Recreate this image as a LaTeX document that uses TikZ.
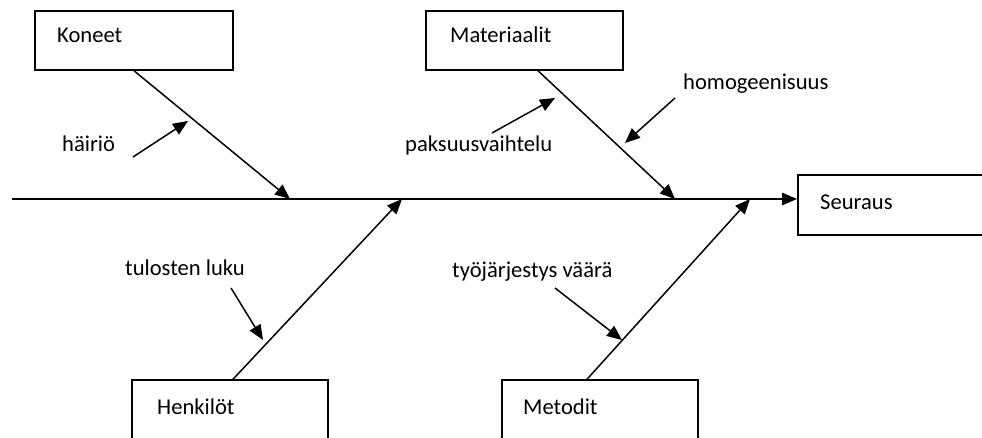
\documentclass[tikz,border=0pt]{standalone}
\usepackage{fontspec}
\setmainfont{Carlito}
\usetikzlibrary{arrows.meta}
\begin{document}
\begin{tikzpicture}[x=1pt,y=-1pt,
  box/.style={draw,line width=1.5pt,minimum width=#1,minimum height=59pt,inner sep=0pt},
  box/.default=198pt,
  lbl/.style={anchor=base west,inner sep=0pt,font=\fontsize{22.6}{26}\selectfont},
  arr/.style={line width=1.5pt,-{Triangle[length=15pt,width=12.5pt]}}]
\useasboundingbox (0,0) rectangle (982,438);
\clip (0,0) rectangle (982,438);

% category boxes
\node[box] (koneet) at (134,40.5) {};
\node[box=197pt] (mat) at (524.5,40.5) {};
\node[box=420pt,minimum height=60pt,anchor=west] (seur) at (797,205) {};
\node[box=196pt,minimum height=62pt] (henk) at (230,411) {};
\node[box=196pt,minimum height=62pt] (met) at (600,411) {};

% box titles
\node[lbl] (tkoneet) at (57,43) {Koneet};
\node[lbl] (tmat) at (450,43) {Materiaalit};
\node[lbl] (tseur) at (820,210) {Seuraus};
\node[lbl] (thenk) at (157,414) {Henkilöt};
\node[lbl] (tmet) at (523,414) {Metodit};

% cause labels
\node[lbl] (lhairio) at (62,152) {häiriö};
\node[lbl] (lpaks) at (405,152) {paksuusvaihtelu};
\node[lbl] (lhomo) at (683,90) {homogeenisuus};
\node[lbl] (ltulos) at (125,276) {tulosten luku};
\node[lbl] (ltyo) at (452,277) {työjärjestys väärä};

% spine
\coordinate (spine) at (12,199);
\coordinate (k1) at (290,199);
\coordinate (h1) at (402,199);
\coordinate (m1) at (675,199);
\coordinate (t1) at (750,199);
\draw[arr] (spine) -- (spine -| seur.west);

% main bones
\draw[arr] (koneet.south) -- (k1);
\draw[arr] ([xshift=13.5pt]mat.south) -- (m1);
\draw[arr] ([xshift=3pt]henk.north) -- (h1);
\draw[arr] ([xshift=-13pt]met.north) -- (t1);

% small cause arrows
\coordinate (a1) at (133,157); \coordinate (b1) at (188,121);
\coordinate (a2) at (492,133); \coordinate (b2) at (555,98);
\coordinate (a3) at (675,98);  \coordinate (b3) at (625,143);
\coordinate (a4) at (231,288); \coordinate (b4) at (263,340);
\coordinate (a5) at (555,288); \coordinate (b5) at (622,340);
\draw[arr] (a1) -- (b1);
\draw[arr] (a2) -- (b2);
\draw[arr] (a3) -- (b3);
\draw[arr] (a4) -- (b4);
\draw[arr] (a5) -- (b5);
\end{tikzpicture}
\end{document}
